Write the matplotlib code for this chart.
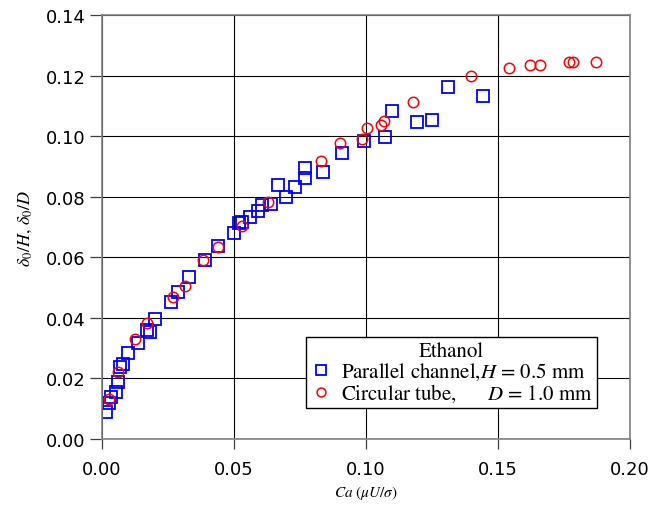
import matplotlib
matplotlib.use("Agg")
import matplotlib.pyplot as plt

plt.rcParams["mathtext.fontset"] = "stix"

# Parallel channel, H = 0.5 mm (blue squares)
ca_par = [0.0015, 0.0025, 0.0033, 0.0052, 0.0061, 0.0068, 0.0080, 0.0100,
          0.0138, 0.0169, 0.0182, 0.0202, 0.0260, 0.0289, 0.0331, 0.0391,
          0.0438, 0.0500, 0.0520, 0.0530, 0.0560, 0.0590, 0.0607, 0.0640,
          0.0665, 0.0697, 0.0731, 0.0768, 0.0768, 0.0836, 0.0908, 0.0994,
          0.1072, 0.1100, 0.1193, 0.1252, 0.1312, 0.1442]
d_par = [0.0088, 0.0119, 0.0138, 0.0156, 0.0189, 0.0237, 0.0249, 0.0284,
         0.0316, 0.0361, 0.0354, 0.0397, 0.0453, 0.0486, 0.0536, 0.0592,
         0.0636, 0.0680, 0.0715, 0.0717, 0.0734, 0.0754, 0.0773, 0.0776,
         0.0839, 0.0801, 0.0833, 0.0895, 0.0862, 0.0883, 0.0944, 0.0985,
         0.0998, 0.1084, 0.1046, 0.1053, 0.1163, 0.1132]

# Circular tube, D = 1.0 mm (red circles)
ca_tube = [0.0028, 0.0062, 0.0126, 0.0169, 0.0268, 0.0314, 0.0384, 0.0441,
           0.0529, 0.0628, 0.0830, 0.0900, 0.0984, 0.1005, 0.1057, 0.1067,
           0.1179, 0.1398, 0.1543, 0.1621, 0.1659, 0.1769, 0.1785, 0.1871]
d_tube = [0.0132, 0.0222, 0.0332, 0.0382, 0.0468, 0.0504, 0.0590, 0.0633,
          0.0702, 0.0784, 0.0919, 0.0977, 0.0990, 0.1026, 0.1037, 0.1050,
          0.1114, 0.1198, 0.1225, 0.1236, 0.1236, 0.1246, 0.1244, 0.1246]

fig = plt.figure(figsize=(6.54, 5.06), dpi=100)
ax = fig.add_axes([0.156, 0.1304, 0.807, 0.8376])

ax.plot(ca_par, d_par, "s", ms=8, mfc="none", mec="#0000ff", mew=1.3,
        label=r"Parallel channel,$H$ = 0.5 mm")
ax.plot(ca_tube, d_tube, "o", ms=7.5, mfc="none", mec="#ff0000", mew=1.1,
        label=r"Circular tube,      $D$ = 1.0 mm")

ax.set_xlim(0, 0.20)
ax.set_ylim(0, 0.14)
ax.set_xticks([0.00, 0.05, 0.10, 0.15, 0.20])
ax.set_yticks([0.00, 0.02, 0.04, 0.06, 0.08, 0.10, 0.12, 0.14])
ax.xaxis.set_major_formatter(matplotlib.ticker.FormatStrFormatter("%.2f"))
ax.yaxis.set_major_formatter(matplotlib.ticker.FormatStrFormatter("%.2f"))
ax.grid(True, color="black", lw=0.8)
ax.set_axisbelow(True)
for s in ax.spines.values():
    s.set_color("#808080")
    s.set_linewidth(1.2)
ax.tick_params(direction="out", length=9, width=0.9, color="#404040",
               labelsize=13, pad=3)
ax.tick_params(axis="x", length=7, pad=8)

ax.set_xlabel(r"$Ca$ ($\mu U/\sigma$)", family="STIXGeneral", fontsize=11, labelpad=4)
ax.set_ylabel(r"$\delta_0/H$, $\delta_0/D$", family="STIXGeneral", fontsize=13, labelpad=8)

leg = ax.legend(loc="lower right", bbox_to_anchor=(0.9375, 0.073),
                title="Ethanol", fancybox=False, framealpha=1,
                edgecolor="black", handletextpad=0.4, borderpad=0.2,
                labelspacing=0.0, handlelength=1.1, borderaxespad=0,
                markerscale=0.85,
                prop={"family": "STIXGeneral", "size": 15},
                title_fontproperties={"family": "STIXGeneral", "size": 15})
leg.get_frame().set_linewidth(1.0)

fig.savefig("out.png", dpi=100)
